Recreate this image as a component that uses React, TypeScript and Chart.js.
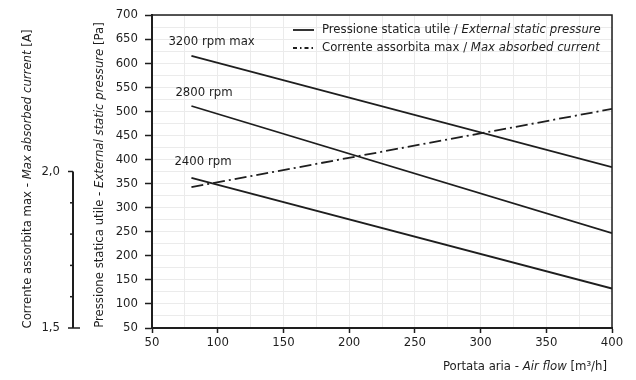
import React, { useEffect, useRef } from 'react';
import { Chart, registerables } from 'chart.js';
Chart.register(...registerables);

// ---- data ----
const airFlow = [80, 400];
const p3200 = [615, 384];
const p2800 = [511, 247];
const p2400 = [362, 132];
const currentA = [1.95, 2.2];
const seriesLabels = ['3200 rpm max', '2800 rpm', '2400 rpm'];
const currentMajorTicks = [1.5, 2.0];
const currentMajorLabels = ['1,5', '2,0'];
const currentMinorTicks = [1.6, 1.7, 1.8, 1.9];
const legendLabels: [string, string][] = [
  ['Pressione statica utile / ', 'External static pressure'],
  ['Corrente assorbita max / ', 'Max absorbed current'],
];

const FONT = "'DejaVu Sans Condensed', 'Liberation Sans Narrow', sans-serif";
const FS = 13;
const INK = '#1e1e1e';
const DASHDOT = [12, 4, 2, 4];

type Part = [string, boolean];

function drawMixed(ctx: CanvasRenderingContext2D, parts: Part[], x: number, y: number, align: 'left' | 'center' | 'right') {
  const fonts = parts.map((p) => `${p[1] ? 'italic ' : ''}${FS}px ${FONT}`);
  const widths = parts.map((p, i) => {
    ctx.font = fonts[i];
    return ctx.measureText(p[0]).width;
  });
  const total = widths.reduce((a, b) => a + b, 0);
  let cx = align === 'left' ? x : align === 'center' ? x - total / 2 : x - total;
  ctx.textBaseline = 'middle';
  ctx.textAlign = 'left';
  parts.forEach((p, i) => {
    ctx.font = fonts[i];
    ctx.fillText(p[0], cx, y);
    cx += widths[i];
  });
}

const decorPlugin = {
  id: 'decor',
  afterDraw(chart: any) {
    const ctx: CanvasRenderingContext2D = chart.ctx;
    const a = chart.chartArea;
    ctx.save();
    ctx.fillStyle = INK;
    ctx.strokeStyle = INK;

    // frame
    ctx.lineWidth = 1.5;
    ctx.beginPath();
    ctx.moveTo(a.left, a.top);
    ctx.lineTo(a.right, a.top);
    ctx.lineTo(a.right, a.bottom);
    ctx.stroke();

    // current axis (partial)
    const yA = chart.scales.yA;
    const ax = 73;
    const y15 = yA.getPixelForValue(currentMajorTicks[0]);
    const y20 = yA.getPixelForValue(currentMajorTicks[1]);
    ctx.lineWidth = 2;
    ctx.beginPath();
    ctx.moveTo(ax, y15);
    ctx.lineTo(ax, y20);
    ctx.stroke();
    ctx.lineWidth = 1.5;
    currentMajorTicks.forEach((v, i) => {
      const py = yA.getPixelForValue(v);
      ctx.beginPath();
      ctx.moveTo(ax - 5, py);
      ctx.lineTo(i === 0 ? ax + 7 : ax, py);
      ctx.stroke();
      ctx.font = `${FS}px ${FONT}`;
      ctx.textAlign = 'right';
      ctx.textBaseline = 'middle';
      ctx.fillText(currentMajorLabels[i], ax - 13, py);
    });
    currentMinorTicks.forEach((v) => {
      const py = yA.getPixelForValue(v);
      ctx.beginPath();
      ctx.moveTo(ax - 3, py);
      ctx.lineTo(ax, py);
      ctx.stroke();
    });

    // axis titles
    ctx.save();
    ctx.translate(28, 179);
    ctx.rotate(-Math.PI / 2);
    drawMixed(ctx, [['Corrente assorbita max - ', false], ['Max absorbed current', true], [' [A]', false]], 0, 0, 'center');
    ctx.restore();

    ctx.save();
    ctx.translate(100, 175);
    ctx.rotate(-Math.PI / 2);
    drawMixed(ctx, [['Pressione statica utile - ', false], ['External static pressure', true], [' [Pa]', false]], 0, 0, 'center');
    ctx.restore();

    drawMixed(ctx, [['Portata aria - ', false], ['Air flow', true], [' [m³/h]', false]], a.right - 5, 367, 'right');

    // series labels
    const dxs = [-23, -16, -17];
    const dys = [-14, -13, -16];
    seriesLabels.forEach((lab, i) => {
      const pt = chart.getDatasetMeta(i).data[0];
      ctx.font = `${FS}px ${FONT}`;
      ctx.textAlign = 'left';
      ctx.textBaseline = 'middle';
      ctx.fillText(lab, pt.x + dxs[i], pt.y + dys[i]);
    });

    // legend
    const lx0 = a.left + 141;
    const lx1 = a.left + 162;
    const tx = a.left + 170;
    const ly = [a.top + 15, a.top + 33];
    ctx.lineWidth = 1.8;
    ctx.beginPath();
    ctx.moveTo(lx0, ly[0]);
    ctx.lineTo(lx1, ly[0]);
    ctx.stroke();
    ctx.setLineDash([4, 3, 1.5, 3]);
    ctx.beginPath();
    ctx.moveTo(lx0, ly[1]);
    ctx.lineTo(lx1, ly[1]);
    ctx.stroke();
    ctx.setLineDash([]);
    legendLabels.forEach((l, i) => {
      drawMixed(ctx, [[l[0], false], [l[1], true]], tx, ly[i], 'left');
    });

    ctx.restore();
  },
};

export default function App() {
  const ref = useRef<HTMLCanvasElement | null>(null);

  useEffect(() => {
    if (!ref.current) return;
    const toPts = (ys: number[]) => airFlow.map((x, i) => ({ x, y: ys[i] }));
    const lineDs = (ys: number[]) => ({
      data: toPts(ys),
      borderColor: INK,
      borderWidth: 1.8,
      pointRadius: 0,
      fill: false,
      yAxisID: 'y',
    });
    const tickFont = { family: FONT, size: FS };
    const chart = new Chart(ref.current, {
      type: 'line',
      data: {
        datasets: [
          lineDs(p3200),
          lineDs(p2800),
          lineDs(p2400),
          {
            data: toPts(currentA),
            borderColor: INK,
            borderWidth: 1.8,
            borderDash: DASHDOT,
            pointRadius: 0,
            fill: false,
            yAxisID: 'yA',
          },
        ],
      },
      options: {
        animation: false,
        responsive: false,
        maintainAspectRatio: false,
        layout: { padding: { left: 112, top: 15, right: 24, bottom: 0 } },
        plugins: { legend: { display: false }, tooltip: { enabled: false } },
        scales: {
          x: {
            type: 'linear',
            min: 50,
            max: 400,
            ticks: {
              stepSize: 25,
              autoSkip: false,
              maxRotation: 0,
              padding: 2,
              color: INK,
              font: tickFont,
              callback: (v: any) => (Number(v) % 50 === 0 ? String(v) : ''),
            },
            grid: {
              color: '#ebebeb',
              lineWidth: 1,
              tickLength: 5,
              tickWidth: 1.5,
              tickColor: (c: any) => (c.tick && c.tick.value % 50 === 0 ? INK : 'rgba(0,0,0,0)'),
            },
            border: { color: INK, width: 2 },
            afterFit: (s: any) => {
              s.height = 52;
            },
          },
          y: {
            type: 'linear',
            position: 'left',
            min: 50,
            max: 700,
            ticks: {
              stepSize: 25,
              autoSkip: false,
              padding: 7,
              color: INK,
              font: tickFont,
              callback: (v: any) => (Number(v) % 50 === 0 ? String(v) : ''),
            },
            grid: {
              color: '#ebebeb',
              lineWidth: 1,
              tickLength: 7,
              tickWidth: 1.5,
              tickColor: (c: any) => (c.tick && c.tick.value % 50 === 0 ? INK : 'rgba(0,0,0,0)'),
            },
            border: { color: INK, width: 2 },
            afterFit: (s: any) => {
              s.width = 40;
            },
          },
          yA: {
            type: 'linear',
            display: false,
            position: 'left',
            min: 1.5,
            max: 2.5,
          },
        },
      } as any,
      plugins: [decorPlugin],
    });
    return () => chart.destroy();
  }, []);

  return (
    <div style={{ position: 'fixed', left: 0, top: 0, width: 636, height: 380, background: '#fff' }}>
      <canvas ref={ref} width={636} height={380} style={{ width: 636, height: 380, display: 'block' }} />
    </div>
  );
}
